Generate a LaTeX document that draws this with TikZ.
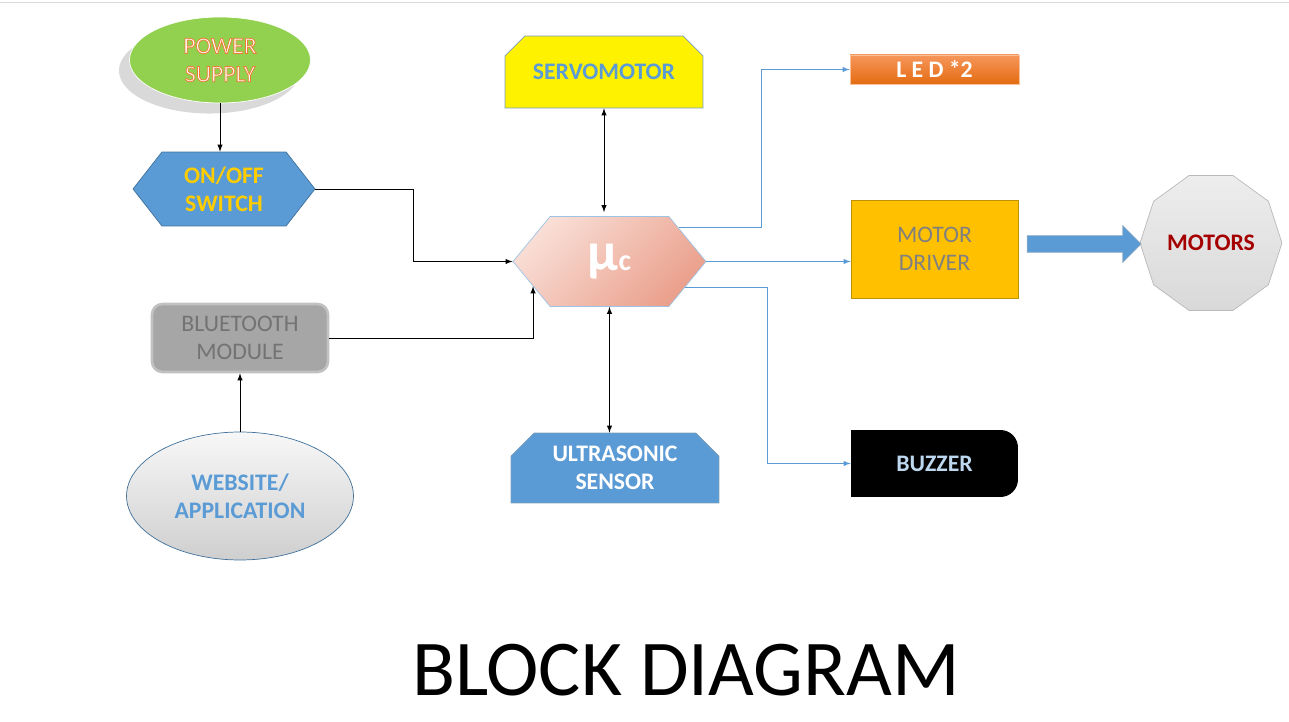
\documentclass[tikz,border=0pt]{standalone}
\usepackage{fontspec}
\setmainfont{Carlito}
\usepackage{xcolor}
\usepackage{tikz}
\usetikzlibrary{shapes,arrows,positioning,calc,shadows,backgrounds}
\definecolor{pwgreen}{RGB}{146,208,80}
\definecolor{swblue}{RGB}{91,155,213}
\definecolor{swedge}{RGB}{65,113,156}
\definecolor{swtext}{RGB}{255,204,0}
\definecolor{mcpinkA}{RGB}{249,222,214}
\definecolor{mcpinkB}{RGB}{234,160,140}
\definecolor{ledA}{RGB}{246,150,90}
\definecolor{ledB}{RGB}{228,108,18}
\definecolor{mdyellow}{RGB}{255,192,0}
\definecolor{mdedge}{RGB}{191,144,0}
\definecolor{mottext}{RGB}{165,0,0}
\definecolor{btgray}{RGB}{166,166,166}
\definecolor{bttext}{RGB}{115,115,115}
\definecolor{bztext}{RGB}{189,215,238}
% text with a coloured outline (stroke colour, width)
\newcommand{\txtstroke}[3]{\special{pdf:literal direct q 2 Tr #2 w #1 RG}#3\special{pdf:literal direct Q}}

\begin{document}
\begin{tikzpicture}[x=0.02cm, y=-0.02cm,
    box/.style={inner sep=0pt, align=center, font=\fontsize{13.5}{16}\selectfont},
    boxb/.style={box, font=\fontsize{13.5}{16}\selectfont\bfseries},
    hexa/.style={signal, signal to=west and east},
    snip/.style={chamfered rectangle, chamfered rectangle corners={north west,north east},
        chamfered rectangle xsep=0.22cm, chamfered rectangle ysep=0.24cm},
    link/.style={-latex, black},
    duplex/.style={latex-latex, black},
    sig/.style={-latex, swblue}]
    \useasboundingbox (0,0) rectangle (1289,722);
    \draw[gray!30] (0,2) -- (1289,2);

    % Power supply and switch
    \node[box, ellipse, fill=pwgreen, draw=white, minimum width=3.62cm, minimum height=1.72cm,
        text=white, drop shadow={shadow xshift=-6pt, shadow yshift=-6pt, opacity=.3}]
        (ps) at (220,60) {\txtstroke{0.93 0.49 0.19}{0.45}{POWER\\SUPPLY}};
    \node[boxb, hexa, signal pointer angle=104, fill=swblue, draw=swedge, minimum width=3.64cm,
        minimum height=1.48cm, text=swtext] (sw) at (224,189) {ON/OFF\\SWITCH};

    % Microcontroller
    \node[box, hexa, signal pointer angle=101, top color=mcpinkA, bottom color=mcpinkB, shading angle=45,
        draw=swblue!60, minimum width=3.86cm, minimum height=1.8cm, text=white]
        (mc) at (609.5,261.5) {\fontsize{31}{31}\selectfont\bfseries μ\fontsize{17}{17}\selectfont c};

    % Servomotor and sensor
    \node[boxb, snip, fill=yellow, draw=swedge!70, minimum width=3.96cm, minimum height=1.44cm,
        text=swblue] (sv) at (604,72) {SERVOMOTOR};
    \node[boxb, snip, fill=swblue, draw=swedge!70, minimum width=4.16cm, minimum height=1.4cm,
        text=white] (us) at (615,468) {ULTRASONIC\\SENSOR};

    % Bluetooth side
    \node[box, rounded corners=6pt, fill=btgray, draw=btgray!70, line width=1.5pt, minimum width=3.52cm,
        minimum height=1.36cm, text=bttext] (bt) at (240,338) {BLUETOOTH\\MODULE};
    \node[boxb, ellipse, top color=gray!6, bottom color=gray!38, draw=swedge, minimum width=4.54cm,
        minimum height=2.56cm, text=swblue] (web) at (240,496) {WEBSITE/\\APPLICATION};

    % Outputs
    \node[boxb, top color=ledA, bottom color=ledB, draw=ledA!60, minimum width=3.38cm, minimum height=0.58cm,
        text=white] (led) at (934.5,69.5) {L E D *2};
    \node[box, fill=mdyellow, draw=mdedge, minimum width=3.34cm, minimum height=1.96cm,
        text=gray] (md) at (934.5,249) {MOTOR\\DRIVER};
    \node[boxb, fill=black, rounded corners=10pt, minimum width=3.34cm, minimum height=1.34cm,
        text=bztext] (bz) at (934.5,463.5) {BUZZER};
    \begin{scope}[on background layer]
        \fill[black] (bz.south west) rectangle (bz.north);
    \end{scope}
    \node[boxb, regular polygon, regular polygon sides=10, top color=gray!14, bottom color=gray!30,
        draw=gray!55, minimum size=2.84cm, text=mottext] (mot) at (1211,243) {MOTORS};
    \node[single arrow, fill=swblue, draw=swedge!60, inner sep=0pt, inner ysep=0.16cm,
        minimum height=2.28cm, single arrow head extend=0.2cm, single arrow tip angle=90] (fat) at (1080,244) {};

    % Title
    \node[font=\fontsize{45}{50}\selectfont] (title) at (686,670) {BLOCK DIAGRAM};

    % Connectors
    \draw[link] (ps.south) -- (ps.south |- sw.north);
    \draw[link] (sw.east) -- ++(98,0) |- (mc.west);
    \draw[link] (bt.east) -| (mc.198);
    \draw[link] (web.north) -- (bt.south);
    \draw[duplex] (sv.south) -- ($(sv.south |- mc.north)+(0,-4)$);
    \draw[duplex] (mc.south) -- (mc.south |- us.north);
    \draw[sig] (mc.26) -- ++(83,0) |- (led.west);
    \draw[sig] (mc.east) -- (mc.east -| md.west);
    \draw[sig] (mc.-19) -- ++(82,0) |- (bz.west);
\end{tikzpicture}
\end{document}
